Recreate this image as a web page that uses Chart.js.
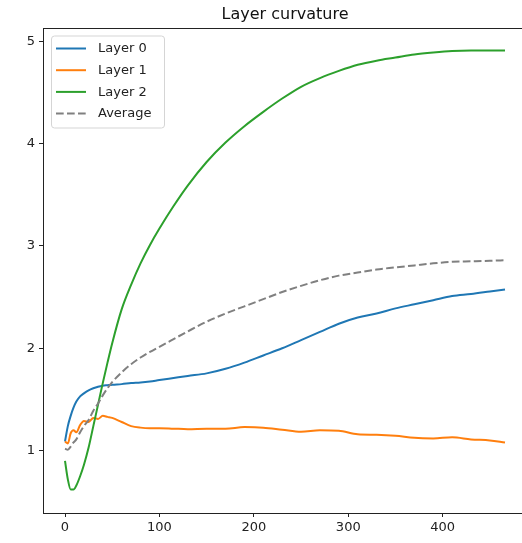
<!DOCTYPE html>
<html>
<head>
<meta charset="utf-8">
<title>Layer curvature</title>
<script src="https://cdn.jsdelivr.net/npm/chart.js@4"></script>
<style>
    html, body { margin: 0; padding: 0; background: #fff; overflow: hidden; }
    canvas { display: block; }
</style>
</head>
<body>
<canvas id="curvatureChart" width="530" height="543"></canvas>
<script>
// ==================== DATA ====================

let steps = [0, 3, 6, 9, 12, 16, 20, 25, 30, 35, 40, 45, 50, 60, 70, 80, 90, 100, 115, 130,
    150, 170, 190, 210, 230, 250, 270, 290, 310, 330, 350, 370, 390, 410, 430, 450, 466];

let layer0 = [1.09, 1.24, 1.34, 1.42, 1.48, 1.53, 1.56, 1.59, 1.61, 1.625, 1.635, 1.64, 1.645, 1.65, 1.66, 1.665, 1.675, 1.69, 1.71, 1.73,
    1.755, 1.80, 1.86, 1.93, 2.00, 2.08, 2.16, 2.24, 2.30, 2.34, 2.39, 2.43, 2.47, 2.51, 2.53, 2.555, 2.575];

let layer1 = [1.09, 1.07, 1.17, 1.20, 1.18, 1.25, 1.29, 1.28, 1.32, 1.31, 1.34, 1.33, 1.32, 1.28, 1.24, 1.225, 1.22, 1.22, 1.215, 1.21,
    1.215, 1.215, 1.23, 1.225, 1.205, 1.185, 1.20, 1.195, 1.16, 1.155, 1.145, 1.125, 1.12, 1.13, 1.11, 1.10, 1.08];

let layer2 = [0.90, 0.72, 0.62, 0.62, 0.66, 0.75, 0.86, 1.03, 1.24, 1.45, 1.66, 1.86, 2.05, 2.38, 2.62, 2.83, 3.01, 3.17, 3.39, 3.59,
    3.82, 4.01, 4.17, 4.31, 4.44, 4.555, 4.64, 4.71, 4.77, 4.81, 4.84, 4.87, 4.89, 4.905, 4.91, 4.91, 4.91];

let average = [1.02, 1.01, 1.04, 1.08, 1.11, 1.18, 1.24, 1.30, 1.39, 1.46, 1.54, 1.61, 1.67, 1.765, 1.845, 1.91, 1.965, 2.015, 2.09, 2.165,
    2.26, 2.34, 2.41, 2.48, 2.55, 2.61, 2.665, 2.71, 2.74, 2.77, 2.79, 2.81, 2.83, 2.845, 2.85, 2.855, 2.86];

let xTicks = [0, 100, 200, 300, 400];
let yTicks = [1, 2, 3, 4, 5];

// ==================== HELPERS ====================

function toPoints(values) {
    return values.map((v, i) => ({ x: steps[i], y: v }));
}

function lineDataset(label, values, color, order, dash) {
    return {
        label: label,
        data: toPoints(values),
        borderColor: color,
        backgroundColor: color,
        borderWidth: 2,
        borderDash: dash || [],
        pointRadius: 0,
        cubicInterpolationMode: 'monotone',
        order: order
    };
}

// frame, title and legend drawn the matplotlib way
let framePlugin = {
    id: 'frame',
    afterDraw(chart) {
        let ctx = chart.ctx;
        let area = chart.chartArea;

        ctx.save();
        ctx.strokeStyle = '#222';
        ctx.lineWidth = 1;
        ctx.strokeRect(area.left + 0.5, area.top + 0.5, area.right - area.left, area.bottom - area.top);

        ctx.fillStyle = '#111';
        ctx.font = '16px "DejaVu Sans"';
        ctx.textAlign = 'center';
        ctx.textBaseline = 'alphabetic';
        ctx.fillText('Layer curvature', (area.left + area.right) / 2, 19);

        // legend box
        let bx = 51.5, by = 36, bw = 113, bh = 92;
        ctx.beginPath();
        ctx.roundRect(bx, by, bw, bh, 3);
        ctx.fillStyle = 'rgba(255,255,255,0.8)';
        ctx.fill();
        ctx.strokeStyle = '#d5d5d5';
        ctx.stroke();

        ctx.font = '13px "DejaVu Sans"';
        ctx.textAlign = 'left';
        ctx.textBaseline = 'middle';
        chart.data.datasets.forEach((ds, i) => {
            let y = 48.5 + i * 21.7;
            ctx.beginPath();
            ctx.setLineDash(ds.borderDash);
            ctx.strokeStyle = ds.borderColor;
            ctx.lineWidth = 2;
            ctx.moveTo(56, y);
            ctx.lineTo(86, y);
            ctx.stroke();
            ctx.setLineDash([]);
            ctx.fillStyle = '#222';
            ctx.fillText(ds.label, 98, y + 0.5);
        });
        ctx.restore();
    }
};

// ==================== CHART ====================

document.addEventListener("DOMContentLoaded", function () {
    let ctx = document.getElementById('curvatureChart').getContext('2d');
    new Chart(ctx, {
        type: 'line',
        data: {
            datasets: [
                lineDataset('Layer 0', layer0, '#1f77b4', 3),
                lineDataset('Layer 1', layer1, '#ff7f0e', 2),
                lineDataset('Layer 2', layer2, '#2ca02c', 1),
                lineDataset('Average', average, '#808080', 0, [7.7, 3.3])
            ]
        },
        options: {
            responsive: false,
            animation: false,
            devicePixelRatio: 1,
            // the right spine sits just past the window edge, as in the reference
            layout: { padding: { top: 28, left: 0, right: 3, bottom: 0 } },
            plugins: {
                legend: { display: false },
                title: { display: false },
                tooltip: { enabled: false }
            },
            scales: {
                x: {
                    type: 'linear',
                    min: -23.3,
                    max: 489.3,
                    afterBuildTicks: axis => { axis.ticks = xTicks.map(v => ({ value: v })); },
                    afterFit: axis => { axis.height = 30; },
                    border: { display: false },
                    grid: { drawOnChartArea: false, drawTicks: true, tickLength: 4, tickColor: '#222' },
                    ticks: { color: '#222', padding: 3, maxRotation: 0, font: { family: 'DejaVu Sans', size: 13 } }
                },
                y: {
                    type: 'linear',
                    min: 0.391,
                    max: 5.129,
                    afterBuildTicks: axis => { axis.ticks = yTicks.map(v => ({ value: v })); },
                    afterFit: axis => { axis.width = 43; },
                    border: { display: false },
                    grid: { drawOnChartArea: false, drawTicks: true, tickLength: 4, tickColor: '#222' },
                    ticks: { color: '#222', padding: 4, font: { family: 'DejaVu Sans', size: 13 } }
                }
            }
        },
        plugins: [framePlugin]
    });
});
</script>
</body>
</html>
